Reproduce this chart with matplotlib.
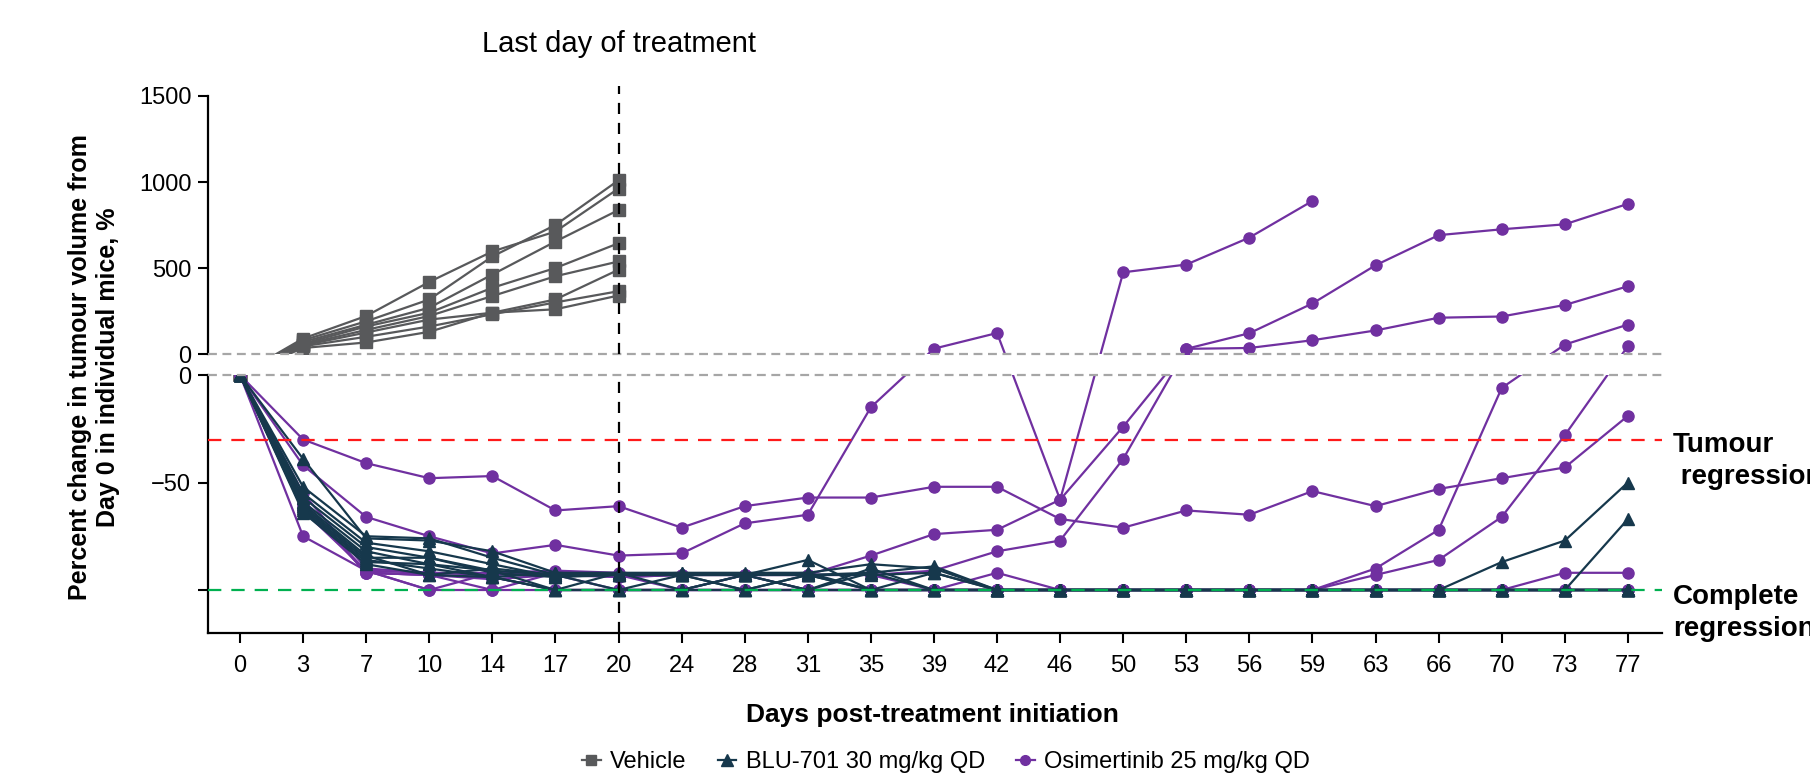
import numpy as np
import matplotlib
matplotlib.use('Agg')
import matplotlib.pyplot as plt
from matplotlib.lines import Line2D

plt.rcParams['font.family'] = ['Liberation Sans', 'DejaVu Sans']

nan = np.nan
days = [0, 3, 7, 10, 14, 17, 20, 24, 28, 31, 35, 39, 42, 46, 50, 53, 56, 59, 63, 66, 70, 73, 77]

# vehicle mice were only followed to day 20
vehicle = [
    [0, 90, 221, 419, 596, 712, 962],
    [0, 80, 190, 317, 567, 750, 1010],
    [0, 70, 170, 269, 462, 654, 837],
    [0, 60, 160, 240, 385, 500, 644],
    [0, 55, 140, 221, 337, 452, 538],
    [0, 50, 125, 200, 240, 317, 490],
    [0, 45, 100, 160, 231, 300, 365],
    [0, 35, 67, 129, 240, 260, 340],
]

blu701 = [
    [0, -39, -76, -77, -82, -92, -92, -92, -92, -92, -88, -90, -100, -100, -100, -100, -100, -100, -100, -100, -100, -100, -100],
    [0, -52, -75, -76, -85, -93, -93, -93, -93, -86, -100, -100, -100, -100, -100, -100, -100, -100, -100, -100, -100, -100, -100],
    [0, -55, -78, -82, -88, -94, -92, -100, -93, -93, -92, -89, -100, -100, -100, -100, -100, -100, -100, -100, -87, -77, -50],
    [0, -57, -80, -85, -91, -100, -100, -93, -100, -93, -100, -92, -100, -100, -100, -100, -100, -100, -100, -100, -100, -100, -67],
    [0, -59, -82, -88, -94, -92, -93, -93, -93, -100, -90, -100, -100, -100, -100, -100, -100, -100, -100, -100, -100, -100, -100],
    [0, -60, -84, -93, -90, -93, -100, -100, -93, -93, -93, -92, -100, -100, -100, -100, -100, -100, -100, -100, -100, -100, -100],
    [0, -61, -85, -85, -92, -94, -93, -93, -100, -93, -100, -100, -100, -100, -100, -100, -100, -100, -100, -100, -100, -100, -100],
    [0, -62, -86, -90, -94, -100, -92, -93, -93, -100, -92, -100, -100, -100, -100, -100, -100, -100, -100, -100, -100, -100, -100],
    [0, -63, -87, -88, -91, -93, -93, -92, -93, -92, -100, -100, -100, -100, -100, -100, -100, -100, -100, -100, -100, -100, -100],
    [0, -64, -88, -93, -94, -100, -100, -100, -100, -100, -100, -100, -100, -100, -100, -100, -100, -100, -100, -100, -100, -100, -100],
]

osimertinib = [
    [0, -30, -41, -48, -47, -63, -61, -71, -61, -57, -57, -52, -52, -67, -71, -63, -65, -54, -61, -53, -48, -43, -19],
    [0, -42, -66, -75, -83, -79, -84, -83, -69, -65, -15, 31, 122, -58, 475, 520, 677, 890, nan, nan, nan, nan, nan],
    [0, -55, -90, -92, -92, -91, -92, -93, -93, -93, -84, -74, -72, -58, -24, 30, 121, 294, 516, 691, 725, 754, 873],
    [0, -60, -92, -93, -95, -93, -94, -93, -93, -93, -93, -91, -82, -77, -39, 30, 35, 80, 137, 211, 218, 285, 394],
    [0, -75, -91, -92, -93, -92, -94, -93, -93, -93, -93, -100, -92, -100, -100, -100, -100, -100, -100, -100, -100, -92, -92],
    [0, -62, -91, -100, -92, -93, -100, -100, -93, -100, -100, -100, -100, -100, -100, -100, -100, -100, -90, -72, -6, 55, 171],
    [0, -60, -92, -93, -100, -92, -93, -100, -100, -100, -100, -100, -100, -100, -100, -100, -100, -100, -93, -86, -66, -28, 46],
    [0, -58, -92, -93, -94, -100, -100, -100, -100, -100, -100, -100, -100, -100, -100, -100, -100, -100, -100, -100, -100, -100, -100],
    [0, -63, -91, -100, -100, -100, -100, -100, -100, -100, -100, -100, -100, -100, -100, -100, -100, -100, -100, -100, -100, -100, -100],
]

TUMOUR_REGRESSION = -30
COMPLETE_REGRESSION = -100
LAST_DAY = 20

GREY = '#58595b'
NAVY = '#16384c'
PURPLE = '#7030a0'

# broken y axis: both panels use one piecewise scale (pixels per %),
# so a line crossing zero runs straight through the gap
W, H = 1810, 776
PANEL_H = 258
GAP = 21
K_BOT = PANEL_H / 120
K_TOP = PANEL_H / 1500
TOP_ZERO = 1e-9


def fwd(v):
    v = np.asarray(v, dtype=float)
    return np.where(v <= 0, v * K_BOT, GAP + v * K_TOP)


def inv(y):
    y = np.asarray(y, dtype=float)
    return np.where(y <= 0, y / K_BOT, np.where(y < GAP, 0.0, (y - GAP) / K_TOP))


fig = plt.figure(figsize=(W / 100, H / 100), dpi=100)
left, width = 208 / W, 1454 / W
ax_bot = fig.add_axes([left, 143 / H, width, PANEL_H / H])
ax_top = fig.add_axes([left, (143 + PANEL_H + GAP) / H, width, PANEL_H / H])

x = np.arange(len(days))
for ax in (ax_top, ax_bot):
    ax.set_yscale('function', functions=(fwd, inv))
    for v in vehicle:
        ax.plot(x[:len(v)], v, color=GREY, marker='s', ms=8, lw=1.6, zorder=3)
    for v in osimertinib:
        ax.plot(x, v, color=PURPLE, marker='o', ms=8, lw=1.6, zorder=3)
    for v in blu701:
        ax.plot(x, v, color=NAVY, marker='^', ms=9, lw=1.6, zorder=4)
    ax.set_xlim(-0.507, 22.54)
    for s in ('top', 'right'):
        ax.spines[s].set_visible(False)
    ax.spines['left'].set_linewidth(1.6)
    ax.spines['bottom'].set_linewidth(1.6)
    ax.tick_params(axis='y', length=7, width=1.5, labelsize=17, pad=5)

ax_top.set_ylim(TOP_ZERO, 1500)
ax_top.set_yticks([TOP_ZERO, 500, 1000, 1500], ['0', '500', '1000', '1500'])
ax_top.spines['bottom'].set_visible(False)
ax_top.tick_params(axis='x', bottom=False, labelbottom=False)
ax_top.axhline(TOP_ZERO, color='#a6a6a6', lw=1.6, ls=(0, (4, 2.5)), zorder=6, clip_on=False)
ax_top.plot([days.index(LAST_DAY)] * 2, [TOP_ZERO, 1560], color='black',
            lw=1.6, ls=(0, (5, 4)), zorder=6, clip_on=False)

ax_bot.set_ylim(-120, 0)
ax_bot.set_yticks([0, -50, -100], ['0', '\u221250', ''])
ax_bot.set_xticks(x, [str(d) for d in days])
ax_bot.tick_params(axis='x', length=7, width=1.5, labelsize=17, pad=9)
ax_bot.axhline(0, color='#a6a6a6', lw=1.6, ls=(0, (4, 2.5)), zorder=6, clip_on=False)
ax_bot.axhline(TUMOUR_REGRESSION, color='#ff1a1a', lw=1.6, ls=(0, (6, 4.5)), zorder=6)
ax_bot.axhline(COMPLETE_REGRESSION, color='#00b050', lw=1.6, ls=(0, (6, 4.5)), zorder=6)
ax_bot.axvline(days.index(LAST_DAY), color='black', lw=1.6, ls=(0, (5, 4)), zorder=6)

fig.text(619 / W, 1 - 44 / H, 'Last day of treatment', ha='center', va='center', fontsize=21)
fig.text(94 / W, 1 - 367 / H, 'Percent change in tumour volume from\nDay 0 in individual mice, %',
         rotation=90, ha='center', va='center', fontsize=18, fontweight='bold', multialignment='center')
fig.text(932 / W, 1 - 715 / H, 'Days post-treatment initiation', ha='center', va='center',
         fontsize=19, fontweight='bold')
fig.text(1673 / W, 1 - 461 / H, 'Tumour\n regression', ha='left', va='center',
         fontsize=20, fontweight='bold', linespacing=1.3)
fig.text(1673 / W, 1 - 613 / H, 'Complete\nregression', ha='left', va='center',
         fontsize=20, fontweight='bold', linespacing=1.3)

handles = [
    Line2D([], [], color=GREY, marker='s', ms=7, lw=1.6),
    Line2D([], [], color=NAVY, marker='^', ms=8, lw=1.6),
    Line2D([], [], color=PURPLE, marker='o', ms=7, lw=1.6),
]
fig.legend(handles, ['Vehicle', 'BLU-701 30 mg/kg QD', 'Osimertinib 25 mg/kg QD'],
           loc='center', bbox_to_anchor=(946 / W, 1 - 762 / H), ncol=3, frameon=False,
           fontsize=17, handlelength=0.8, handletextpad=0.4, columnspacing=1.3)

fig.savefig('out.png', dpi=100)
